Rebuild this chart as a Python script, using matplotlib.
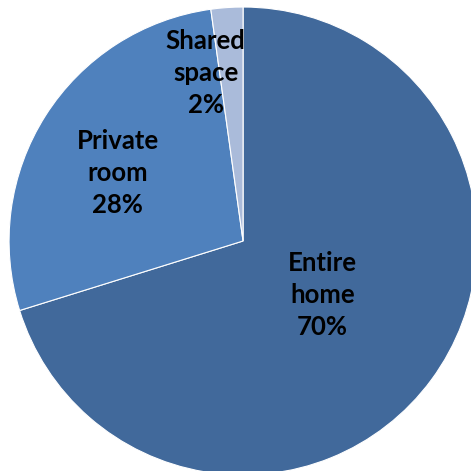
import matplotlib.pyplot as plt

categories = ['Entire\nhome', 'Private\nroom', 'Shared\nspace']
shares = [70.2, 27.6, 2.2]
pct_labels = ['70%', '28%', '2%']
colors = ['#41699B', '#4F81BD', '#AABBDA']

fig = plt.figure(figsize=(4.71, 4.71), dpi=100)
ax = fig.add_axes([0, 0, 1, 1])

ax.pie(shares, colors=colors, startangle=90, counterclock=False, radius=1,
       wedgeprops={'edgecolor': 'white', 'linewidth': 0.8})

# label spots (data coords, pie radius = 1)
label_pos = [(0.34, -0.23), (-0.535, 0.29), (-0.16, 0.72)]
for name, pct, (x, y) in zip(categories, pct_labels, label_pos):
    ax.text(x, y, f'{name}\n{pct}', ha='center', va='center',
            fontsize=18.5, fontweight='bold', family='Lato',
            linespacing=1.4, color='black')

ax.set_xlim(-1.0385, 0.974)
ax.set_ylim(-0.983, 1.030)
ax.set_aspect('equal')
ax.axis('off')

fig.savefig('out.png', dpi=100)
